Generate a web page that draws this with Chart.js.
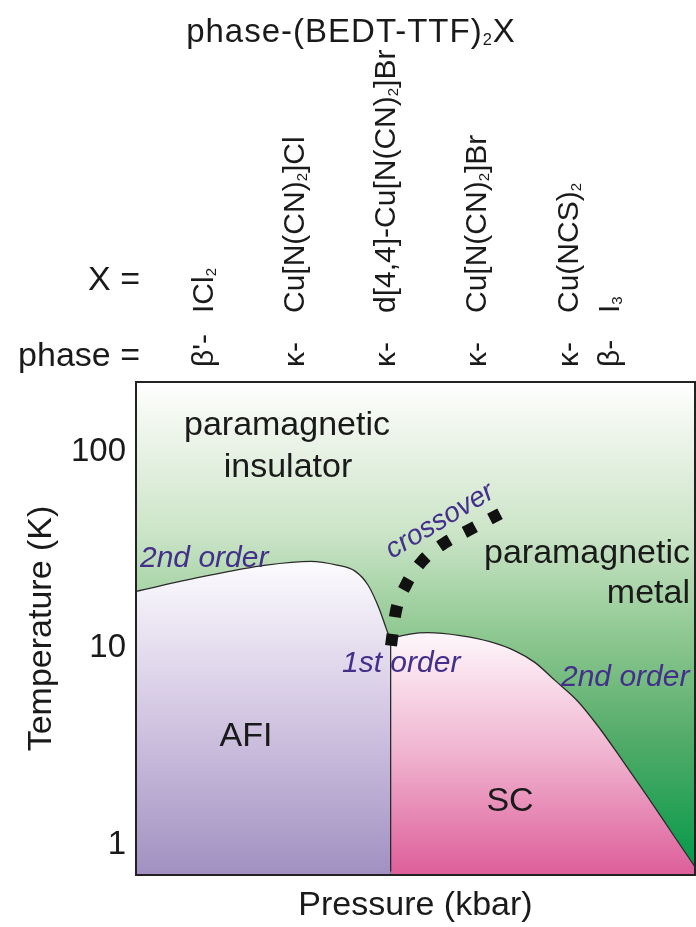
<!DOCTYPE html>
<html>
<head>
<meta charset="utf-8">
<script src="https://cdn.jsdelivr.net/npm/chart.js@4.4.1/dist/chart.umd.min.js"></script>
<style>
  html, body { margin: 0; padding: 0; background: #fff; }
  #wrap { width: 696px; height: 927px; }
</style>
</head>
<body>
<div id="wrap"><canvas id="chart" width="696" height="927"></canvas></div>
<script>
// ---- data (pressure in arbitrary units 0..100, temperature in K) ----
const tempTicks = [1, 10, 100];

const afiPressure = [0, 11.45, 23.26, 31.3, 35.96, 39.18, 41.5, 43.47, 44.72, 45.55];
const afiTemp     = [19.5, 23.0, 26.5, 27.7, 26.5, 24.7, 21.0, 16.0, 12.7, 10.9];

const scPressure = [45.55, 49.0, 52.2, 58.0, 63.3, 67.8, 71.4, 75.0, 78.9, 82.8, 86.8, 91.6, 96.4, 100];
const scTemp     = [11.2, 11.8, 12.0, 11.6, 10.8, 9.7, 8.45, 6.84, 5.42, 3.96, 2.74, 1.74, 1.09, 0.77];

const firstOrderPressure = [45.55, 45.55];
const firstOrderTemp     = [0.73, 11.2];

const crossPressure = [45.62, 46.51, 48.30, 51.16, 55.10, 59.39, 65.12];
const crossTemp     = [10.3, 15.5, 21.0, 27.7, 34.2, 39.8, 48.4];

// compound columns above the plot
const columnPressure = [13.8, 30.1, 46.3, 62.6, 79.1, 86.4];
const columnPhase = ["β'-", "κ-", "κ-", "κ-", "κ-", "β-"];
const columnAnion = ["ICl_2", "Cu[N(CN)_2]Cl", "d[4,4]-Cu[N(CN)_2]Br", "Cu[N(CN)_2]Br", "Cu(NCS)_2", "I_3"];

const FONT = "'Liberation Sans', Arial, sans-serif";
const INK = "#1a1a1a";
const PURPLE = "#44308a";

const pts = (xs, ys) => xs.map((x, i) => ({ x, y: ys[i] }));

function vGrad(chart, topVal, stops) {
    const { ctx, chartArea, scales } = chart;
    if (!chartArea) return null;
    const top = topVal == null ? chartArea.top : scales.y.getPixelForValue(topVal);
    const g = ctx.createLinearGradient(0, top, 0, chartArea.bottom);
    stops.forEach(([t, c]) => g.addColorStop(t, c));
    return g;
}

// text with "_n" subscripts
function richText(ctx, str, x, y, size, align) {
    const parts = str.split(/(_\d)/).filter(Boolean).map(s =>
        s[0] === "_" ? { t: s.slice(1), sub: true } : { t: s, sub: false });
    const subSize = size * 0.5;
    let total = 0;
    parts.forEach(p => {
        ctx.font = `${p.sub ? subSize : size}px ${FONT}`;
        p.w = ctx.measureText(p.t).width;
        total += p.w;
    });
    let cx = align === "center" ? x - total / 2 : align === "right" ? x - total : x;
    ctx.textAlign = "left";
    ctx.textBaseline = "alphabetic";
    parts.forEach(p => {
        ctx.font = `${p.sub ? subSize : size}px ${FONT}`;
        ctx.fillText(p.t, cx, p.sub ? y + size * 0.1 : y);
        cx += p.w;
    });
}

const backdrop = {
    id: "backdrop",
    beforeDatasetsDraw(chart) {
        const { ctx, chartArea: a } = chart;
        ctx.save();
        ctx.fillStyle = vGrad(chart, null, [
            [0, "#ffffff"], [0.1, "#eef5eb"], [0.3, "#cde5c9"], [0.5, "#92ca94"],
            [0.72, "#54ac69"], [1, "#009848"]
        ]);
        ctx.fillRect(a.left, a.top, a.right - a.left, a.bottom - a.top);
        ctx.restore();
    },
    afterDatasetsDraw(chart) {
        const { ctx, chartArea: a } = chart;
        ctx.save();
        ctx.strokeStyle = "#222";
        ctx.lineWidth = 2;
        ctx.strokeRect(a.left, a.top, a.right - a.left, a.bottom - a.top);
        ctx.restore();
    }
};

const labels = {
    id: "labels",
    afterDraw(chart) {
        const { ctx, scales } = chart;
        ctx.save();
        ctx.fillStyle = INK;

        // title
        ctx.letterSpacing = "1px";
        richText(ctx, "phase-(BEDT-TTF)_2X", 351, 42, 33, "center");
        ctx.letterSpacing = "0px";

        ctx.font = `34px ${FONT}`;
        ctx.textAlign = "right";
        ctx.fillText("X =", 140, 290);
        ctx.fillText("phase =", 140, 366);

        // rotated compound columns
        columnPressure.forEach((p, i) => {
            const bx = scales.x.getPixelForValue(p);
            ctx.save();
            ctx.translate(bx, 367);
            ctx.rotate(-Math.PI / 2);
            richText(ctx, columnPhase[i], 0, 0, 30, "left");
            ctx.restore();
            ctx.save();
            ctx.translate(bx, 313);
            ctx.rotate(-Math.PI / 2);
            richText(ctx, columnAnion[i], 0, 0, 30, "left");
            ctx.restore();
        });

        // region names
        ctx.font = `34px ${FONT}`;
        ctx.textAlign = "center";
        ctx.textBaseline = "alphabetic";
        ctx.fillText("paramagnetic", 287, 435);
        ctx.fillText("insulator", 288, 477);
        ctx.fillText("AFI", 246, 746);
        ctx.fillText("SC", 510, 811);
        ctx.textAlign = "right";
        ctx.fillText("paramagnetic", 690, 563);
        ctx.fillText("metal", 690, 603);

        // transition annotations
        ctx.fillStyle = PURPLE;
        ctx.font = `italic 30px ${FONT}`;
        ctx.textAlign = "left";
        ctx.fillText("2nd order", 140, 567);
        ctx.fillText("1st order", 342, 672);
        ctx.fillText("2nd order", 561, 686);
        ctx.save();
        ctx.translate(392, 559);
        ctx.rotate(-31 * Math.PI / 180);
        ctx.font = `italic 28px ${FONT}`;
        ctx.fillText("crossover", 0, 0);
        ctx.restore();
        ctx.restore();
    }
};

new Chart(document.getElementById("chart"), {
    type: "scatter",
    data: {
        datasets: [
            {
                label: "crossover",
                data: pts(crossPressure, crossTemp),
                showLine: true,
                borderColor: "#111",
                borderWidth: 12,
                borderDash: [12, 16.7],
                borderCapStyle: "butt",
                cubicInterpolationMode: "monotone",
                pointRadius: 0,
                fill: false
            },
            {
                label: "1st order",
                data: pts(firstOrderPressure, firstOrderTemp),
                showLine: true,
                borderColor: "#2a2a2a",
                borderWidth: 1.3,
                pointRadius: 0,
                fill: false
            },
            {
                label: "AFI",
                data: pts(afiPressure, afiTemp),
                showLine: true,
                borderColor: "#2a2a2a",
                borderWidth: 1.3,
                cubicInterpolationMode: "monotone",
                pointRadius: 0,
                fill: "start",
                backgroundColor: c => vGrad(c.chart, Math.max(...afiTemp), [
                    [0, "#fcfbfe"], [0.5, "#d2c6e2"], [1, "#a190c1"]
                ])
            },
            {
                label: "SC",
                data: pts(scPressure, scTemp),
                showLine: true,
                borderColor: "#2a2a2a",
                borderWidth: 1.3,
                cubicInterpolationMode: "monotone",
                pointRadius: 0,
                fill: "start",
                backgroundColor: c => vGrad(c.chart, Math.max(...scTemp), [
                    [0, "#fef7fb"], [0.5, "#f0b3cf"], [1, "#dd5e9a"]
                ])
            }
        ]
    },
    options: {
        responsive: false,
        animation: false,
        layout: { padding: { top: 382, right: 1, left: 0, bottom: 0 } },
        plugins: { legend: { display: false }, tooltip: { enabled: false } },
        scales: {
            x: {
                type: "linear",
                min: 0,
                max: 100,
                grid: { display: false, drawTicks: false },
                border: { display: false },
                ticks: { display: false },
                title: {
                    display: true,
                    text: "Pressure (kbar)",
                    color: INK,
                    font: { family: FONT, size: 34 },
                    padding: { top: 0, bottom: 1 }
                },
                afterFit: s => { s.height = 52; }
            },
            y: {
                type: "logarithmic",
                min: 0.73,
                max: 227,
                grid: { display: false, drawTicks: false },
                border: { display: false },
                afterBuildTicks: s => { s.ticks = tempTicks.map(v => ({ value: v })); },
                ticks: {
                    color: INK,
                    font: { family: FONT, size: 33 },
                    padding: 10,
                    callback: v => String(v)
                },
                title: {
                    display: true,
                    text: "Temperature (K)",
                    color: INK,
                    font: { family: FONT, size: 34 },
                    padding: { top: 21, bottom: 0 }
                },
                afterFit: s => { s.width = 136; }
            }
        }
    },
    plugins: [backdrop, labels]
});
</script>
</body>
</html>
